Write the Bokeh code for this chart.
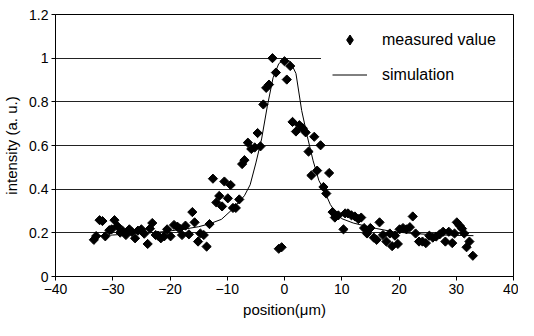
import math
from bokeh.plotting import figure
from bokeh.models import FixedTicker, CustomJSTickFormatter, Legend, LegendItem
from bokeh.embed import file_html
from bokeh.resources import INLINE

# measured data (position in um, intensity a.u.)
meas_x = [-33.3, -32.9, -32.3, -31.8, -31.3, -30.6, -30.2, -29.7, -29.2, -28.7,
          -28.3, -27.7, -27.1, -26.7, -26.1, -25.6, -25.0, -24.5, -23.9, -23.5,
          -23.1, -22.5, -22.1, -21.6, -21.0, -20.5, -19.9, -19.3, -18.7, -18.3,
          -17.9, -17.3, -16.7, -16.1, -15.7, -15.1, -14.7, -14.1, -13.6, -13.1,
          -12.5, -11.9, -11.4, -10.9, -10.5, -9.9, -9.4, -9.0, -8.5, -7.9,
          -7.4, -7.0, -6.4, -5.8, -5.2, -4.7, -4.2, -3.7, -3.2, -2.7,
          -2.1, -1.5, -1.0, -0.5, 0.0, 0.4, 1.0, 1.4, 2.0, 2.6,
          3.2, 3.7, 4.2, 4.7, 5.2, 5.7, 6.3, 6.8, 7.3, 7.8,
          8.4, 8.8, 9.4, 10.3, 10.6, 11.1, 11.7, 12.3, 12.9, 13.4,
          13.9, 14.4, 15.0, 15.6, 16.1, 16.6, 17.2, 17.8, 18.4, 18.8,
          19.3, 19.8, 20.1, 20.7, 21.3, 21.9, 22.4, 22.9, 23.5, 24.1,
          24.7, 25.3, 25.9, 26.5, 27.1, 27.7, 28.1, 28.7, 29.3, 29.7,
          30.1, 30.6, 31.0, 31.4, 31.8, 32.3, 32.9]
meas_y = [0.168, 0.185, 0.258, 0.254, 0.184, 0.212, 0.216, 0.258, 0.231, 0.201,
          0.210, 0.190, 0.216, 0.205, 0.175, 0.210, 0.216, 0.196, 0.149, 0.219,
          0.245, 0.190, 0.187, 0.175, 0.184, 0.216, 0.184, 0.236, 0.228, 0.219,
          0.190, 0.233, 0.193, 0.295, 0.248, 0.160, 0.197, 0.190, 0.137, 0.240,
          0.448, 0.339, 0.369, 0.321, 0.435, 0.358, 0.419, 0.314, 0.314, 0.353,
          0.515, 0.533, 0.613, 0.584, 0.591, 0.657, 0.596, 0.788, 0.864, 0.879,
          1.000, 0.934, 0.127, 0.134, 0.986, 0.902, 0.964, 0.708, 0.664, 0.693,
          0.679, 0.660, 0.572, 0.463, 0.640, 0.485, 0.601, 0.410, 0.380, 0.474,
          0.295, 0.270, 0.280, 0.216, 0.289, 0.289, 0.280, 0.275, 0.263, 0.270,
          0.222, 0.197, 0.222, 0.178, 0.168, 0.248, 0.190, 0.160, 0.197, 0.139,
          0.187, 0.149, 0.216, 0.222, 0.216, 0.226, 0.275, 0.197, 0.160, 0.160,
          0.153, 0.187, 0.178, 0.183, 0.193, 0.205, 0.160, 0.205, 0.153, 0.197,
          0.248, 0.233, 0.219, 0.197, 0.134, 0.160, 0.095]

# simulation curve
sim_x = [-33, -30, -26, -22, -18, -15, -13, -11, -9, -8, -7, -6, -5, -4, -3, -2,
         -1, 0, 1, 2, 3, 4, 5, 6, 7, 8, 9, 10, 12, 14, 16, 19, 22, 25, 28, 31, 33]
sim_y = [0.185, 0.190, 0.197, 0.203, 0.215, 0.228, 0.242, 0.262, 0.310, 0.340,
         0.370, 0.420, 0.520, 0.630, 0.780, 0.910, 0.975, 0.995, 0.985, 0.930,
         0.760, 0.640, 0.530, 0.440, 0.390, 0.330, 0.290, 0.265, 0.245, 0.232,
         0.220, 0.205, 0.198, 0.193, 0.190, 0.188, 0.187]

x_ticks = [-40, -30, -20, -10, 0, 10, 20, 30, 40]
y_ticks = [0, 0.2, 0.4, 0.6, 0.8, 1.0, 1.2]

FONT = "Liberation Sans"

p = figure(width=518, height=320, output_backend="svg", toolbar_location=None,
           x_range=(-40, 40), y_range=(0, 1.2),
           min_border_left=53, min_border_right=5, min_border_top=14,
           min_border_bottom=44)

p.outline_line_color = "black"
p.outline_line_width = 1
p.outline_line_alpha = 1.0
p.background_fill_color = "white"
p.border_fill_color = "white"

p.xgrid.visible = False
p.ygrid.grid_line_color = "#222222"
p.ygrid.grid_line_width = 1

p.xaxis.ticker = FixedTicker(ticks=x_ticks)
p.yaxis.ticker = FixedTicker(ticks=y_ticks)
p.yaxis.formatter = CustomJSTickFormatter(code="return String(Math.round(tick*10)/10);")

for ax in (p.xaxis[0], p.yaxis[0]):
    ax.axis_line_color = "black"
    ax.axis_line_width = 1
    ax.major_tick_line_color = "black"
    ax.major_tick_out = 4
    ax.major_tick_in = 0
    ax.minor_tick_line_color = None
    ax.major_label_text_font = FONT
    ax.major_label_text_font_size = "14px"
    ax.major_label_text_color = "black"
    ax.axis_label_text_font = FONT
    ax.axis_label_text_font_size = "15px"
    ax.axis_label_text_font_style = "normal"
    ax.axis_label_text_color = "black"

p.xaxis.axis_label = "position(μm)"
p.yaxis.axis_label = "intensity (a. u.)"
p.xaxis.major_label_standoff = 3
p.yaxis.major_label_standoff = 3
p.xaxis.axis_label_standoff = 4
p.yaxis.axis_label_standoff = 6

r_meas = p.scatter(meas_x, meas_y, marker="square", size=6.5, angle=math.pi / 4,
                   fill_color="black", line_color="black")
r_sim = p.line(sim_x, sim_y, line_color="black", line_width=1)
# legend-only key marker (never visible in the plot area)
r_key = p.scatter([float("nan")], [float("nan")], marker="diamond",
                  fill_color="black", line_color="black")

legend = Legend(items=[LegendItem(label="measured value", renderers=[r_key]),
                       LegendItem(label="simulation", renderers=[r_sim])],
                location=(266, 178))
legend.background_fill_color = "white"
legend.background_fill_alpha = 1.0
legend.border_line_color = "white"
legend.border_line_width = 1
legend.label_text_font = FONT
legend.label_text_font_size = "16px"
legend.label_text_color = "black"
legend.glyph_width = 35
legend.glyph_height = 25
legend.label_height = 25
legend.label_width = 121
legend.spacing = 10
legend.padding = 10
legend.label_standoff = 15
legend.margin = 0
p.add_layout(legend)

open("out.html", "w").write(file_html(p, INLINE))
